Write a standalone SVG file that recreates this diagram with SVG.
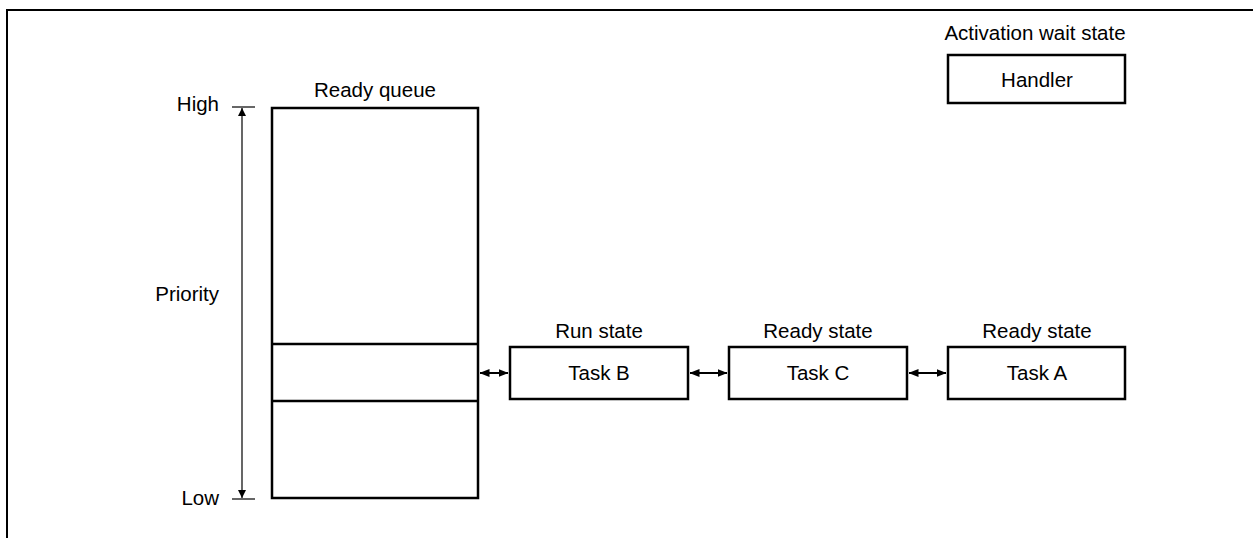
<svg xmlns="http://www.w3.org/2000/svg" width="1253" height="538" viewBox="0 0 1253 538">
  <style>
    .box { fill: #fff; stroke: #000; stroke-width: 2.5; }
    .lbl { font-family: "Liberation Sans", Arial, sans-serif; font-size: 20.5px; fill: #000; }
    .mid { text-anchor: middle; }
    .end { text-anchor: end; }
    .thin { stroke: #000; stroke-width: 1.2; fill: none; }
    .link { stroke: #000; stroke-width: 2; fill: none; marker-start: url(#head); marker-end: url(#head); }
  </style>
  <defs>
    <marker id="head" viewBox="0 0 10 8" refX="9.5" refY="4" markerWidth="10" markerHeight="8" markerUnits="userSpaceOnUse" orient="auto-start-reverse">
      <path d="M0,0 L10,4 L0,8 Z" fill="#000"/>
    </marker>
    <marker id="tip" viewBox="0 0 8 14" refX="8" refY="7" markerWidth="8" markerHeight="14" markerUnits="userSpaceOnUse" orient="auto-start-reverse">
      <path d="M0,3 L8,7 L0,11 Z" fill="#000"/>
    </marker>
  </defs>

  <!-- outer frame -->
  <path d="M7,538 V10 H1253" fill="none" stroke="#000" stroke-width="2"/>

  <!-- priority scale -->
  <g id="priority">
    <line class="thin" x1="232" y1="107" x2="255" y2="107" stroke="#555"/>
    <line class="thin" x1="232" y1="499" x2="255" y2="499" stroke="#555"/>
    <line x1="242" y1="108" x2="242" y2="498" stroke="#000" stroke-width="1.2" marker-start="url(#tip)" marker-end="url(#tip)"/>
    <text class="lbl end" x="219" y="111">High</text>
    <text class="lbl end" x="219" y="301">Priority</text>
    <text class="lbl end" x="219" y="505">Low</text>
  </g>

  <!-- ready queue -->
  <g id="ready-queue">
    <rect class="box" x="272" y="108" width="206" height="390"/>
    <line x1="272" y1="344" x2="478" y2="344" stroke="#000" stroke-width="2.5"/>
    <line x1="272" y1="401" x2="478" y2="401" stroke="#000" stroke-width="2.5"/>
    <text class="lbl mid" x="375" y="97">Ready queue</text>
  </g>

  <g id="task-b">
    <rect class="box" x="510" y="347" width="178" height="52"/>
    <text class="lbl mid" x="599" y="338">Run state</text>
    <text class="lbl mid" x="599" y="380">Task B</text>
  </g>

  <g id="task-c">
    <rect class="box" x="729" y="347" width="178" height="52"/>
    <text class="lbl mid" x="818" y="338">Ready state</text>
    <text class="lbl mid" x="818" y="380">Task C</text>
  </g>

  <g id="task-a">
    <rect class="box" x="948" y="347" width="177" height="52"/>
    <text class="lbl mid" x="1037" y="338">Ready state</text>
    <text class="lbl mid" x="1037" y="380">Task A</text>
  </g>

  <g id="handler">
    <rect class="box" x="948" y="55" width="177" height="48"/>
    <text class="lbl mid" x="1035" y="40">Activation wait state</text>
    <text class="lbl mid" x="1037" y="87">Handler</text>
  </g>

  <!-- queue links -->
  <g id="connectors">
    <line class="link" x1="480" y1="373" x2="508" y2="373"/>
    <line class="link" x1="690" y1="373" x2="727" y2="373"/>
    <line class="link" x1="909" y1="373" x2="946" y2="373"/>
  </g>
</svg>
